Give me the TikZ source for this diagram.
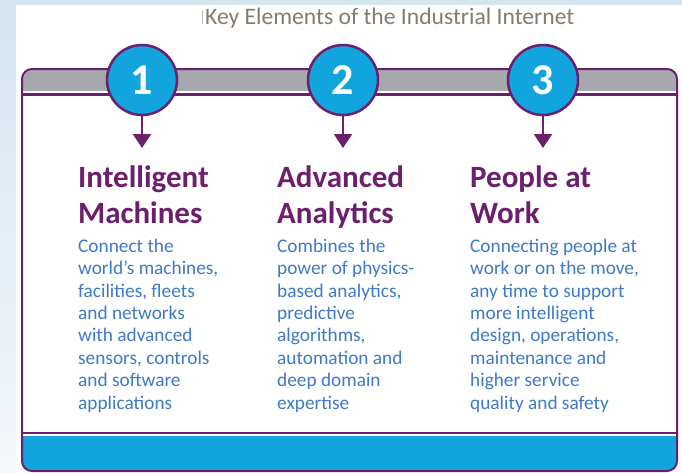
\documentclass[tikz,border=0pt]{standalone}
\usepackage{fontspec}
\setmainfont{Carlito}
\usetikzlibrary{arrows.meta}
\definecolor{ppl}{HTML}{6B1F6D}
\definecolor{cblue}{HTML}{12A4DC}
\definecolor{bblue}{HTML}{3F7AC6}
\definecolor{bandgray}{HTML}{A6A8AB}
\definecolor{titlec}{HTML}{857A70}
\definecolor{bgtop}{HTML}{D3E5EF}
\definecolor{bgbot}{HTML}{F4F7FA}
\tikzset{
  numc/.style={circle, minimum size=70pt, inner sep=0pt, fill=cblue, draw=ppl, line width=2.5pt, text=white, font=\bfseries\fontsize{44}{44}\selectfont},
  head/.style={anchor=base west, inner sep=0pt, align=left, text=ppl, font=\bfseries\fontsize{31}{36}\selectfont},
  body/.style={anchor=base west, inner sep=0pt, align=left, text=bblue, font=\fontsize{19.3}{22.4}\selectfont},
  arr/.style={ppl, line width=2pt, -{Triangle[width=18pt,length=14pt]}},
}
\begin{document}
\begin{tikzpicture}[x=1pt,y=-1pt]
\useasboundingbox (0,0) rectangle (682,472);
% background
\fill[bgbot] (0,0) rectangle (682,472);
\shade[top color=bgtop, bottom color=bgbot] (0,0) rectangle (16,472);
\fill[bgtop] (0,0) rectangle (682,5);
\fill[white] (16,5) rectangle (682,472);
% title
\draw[titlec!50, line width=0.8pt] (202,10) -- (202,24);
\node[anchor=base west, inner sep=0pt, text=titlec, font=\fontsize{23.6}{24}\selectfont] (title) at (205,24) {Key Elements of the Industrial Internet};
% frame
\begin{scope}
\clip[rounded corners=10pt] (22,69) rectangle (677,471);
\fill[white] (22,69) rectangle (677,471);
\fill[bandgray] (22,69) rectangle (677,91);
\fill[cblue] (22,436) rectangle (677,471);
\draw[ppl, line width=2.5pt] (22,94.5) -- (677,94.5);
\draw[ppl, line width=2.5pt] (22,433) -- (677,433);
\end{scope}
\draw[ppl, line width=2pt, rounded corners=10pt] (22,69) rectangle (677,471);
% circles
\node[numc] (c1) at (142,80) {1};
\node[numc] (c2) at (343,80) {2};
\node[numc] (c3) at (543,80) {3};
\coordinate (a1) at (142,148);
\coordinate (a2) at (343,148);
\coordinate (a3) at (543,148);
\draw[arr] (c1.south) -- (a1);
\draw[arr] (c2.south) -- (a2);
\draw[arr] (c3.south) -- (a3);
% headings (anchor = baseline of last line)
\node[head] (h1) at (78,223) {Intelligent\\Machines};
\node[head] (h2) at (277,223) {Advanced\\Analytics};
\node[head] (h3) at (470,223) {People at\\Work};
% body (anchor = baseline of last line)
\node[body] (b1) at (78,409) {Connect the\\world’s machines,\\facilities, fleets\\and networks\\with advanced\\sensors, controls\\and software\\applications};
\node[body] (b2) at (277,409) {Combines the\\power of physics-\\based analytics,\\predictive\\algorithms,\\automation and\\deep domain\\expertise};
\node[body] (b3) at (470,409) {Connecting people at\\work or on the move,\\any time to support\\more intelligent\\design, operations,\\maintenance and\\higher service\\quality and safety};
\end{tikzpicture}
\end{document}
